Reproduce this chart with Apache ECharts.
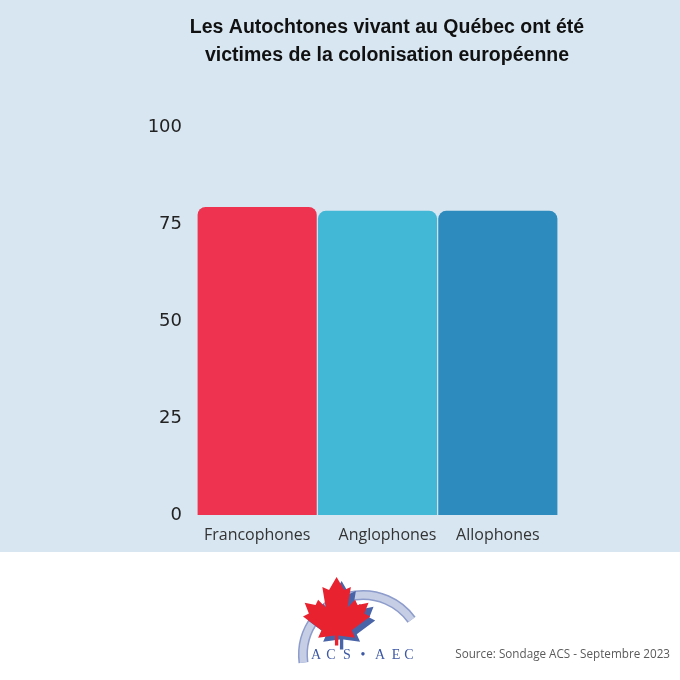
<!DOCTYPE html>
<html><head><meta charset="utf-8">
<script src="https://cdn.jsdelivr.net/npm/echarts@6/dist/echarts.min.js"></script>
<style>html,body{margin:0;padding:0;background:#fff}#c{width:680px;height:680px}</style>
</head><body><div id="c"></div>
<script>
const categories = ['Francophones', 'Anglophones', 'Allophones'];
const values = [79.4, 78.4, 78.4];
const barColors = ['#ee3350', '#42b7d6', '#2e8bbd'];
const yTicks = [0, 25, 50, 75, 100];
const titleLines = ['Les Autochtones vivant au Québec ont été', 'victimes de la colonisation européenne'];
const sourceText = 'Source: Sondage ACS - Septembre 2023';
const logoLetters = ['A', 'C', 'S', '•', 'A', 'E', 'C'];

const leafPts = [[50,0],[41,17],[33,13],[37,40],[28,30],[25,37],[12,34],[17,48],[10,52],[32,70],[28,80],[48,77],[48,90],[52,90],[52,77],[72,80],[68,70],[90,52],[83,48],[88,34],[75,37],[72,30],[63,40],[67,13],[59,17]];
function leaf(ox, oy, sx, sy){ return leafPts.map(p => [ox + p[0]*sx, oy + p[1]*sy]); }
const letterX = [316, 331, 347, 363, 380, 396, 409];
const labelShift = [0, 20, 0];

const chart = echarts.init(document.getElementById('c'));
const graphics = [
  { type: 'rect', z: -10, shape: { x: 0, y: 0, width: 680, height: 552 }, style: { fill: '#d8e6f1' } },
  { type: 'text', x: 387, y: 28, style: { text: titleLines[0], fontFamily: 'Liberation Sans', fontWeight: 'bold', fontSize: 19.5, fill: '#111', align: 'center', verticalAlign: 'middle' } },
  { type: 'text', x: 387, y: 56, style: { text: titleLines[1], fontFamily: 'Liberation Sans', fontWeight: 'bold', fontSize: 19.5, fill: '#111', align: 'center', verticalAlign: 'middle' } },
  { type: 'text', x: 670, y: 655, style: { text: sourceText, fontFamily: 'Open Sans', fontSize: 11.7, fill: '#5a5a5a', align: 'right', verticalAlign: 'middle' } },
  { type: 'arc', shape: { cx: 363, cy: 655, r: 60, startAngle: Math.PI * 0.96, endAngle: Math.PI * 1.80 }, style: { stroke: '#8d9ccb', lineWidth: 10, fill: null } },
  { type: 'arc', shape: { cx: 363, cy: 655, r: 60, startAngle: Math.PI * 0.96, endAngle: Math.PI * 1.80 }, style: { stroke: '#c6cee6', lineWidth: 7, fill: null } },
  { type: 'polygon', shape: { points: leaf(299.6, 581, 0.84, 0.76) }, style: { fill: '#4a64a8' } },
  { type: 'polygon', shape: { points: leaf(294.6, 577, 0.84, 0.76) }, style: { fill: '#e8232f' } }
];
logoLetters.forEach((ch, i) => graphics.push({ type: 'text', x: letterX[i], y: 655, style: { text: ch, fontFamily: 'Liberation Serif', fontSize: 14, fill: '#3d58a5', align: 'center', verticalAlign: 'middle' } }));

chart.setOption({
  backgroundColor: '#ffffff',
  animation: false,
  grid: { left: 197, right: 122, top: 127, bottom: 165 },
  xAxis: {
    type: 'category',
    data: categories.map((c, i) => ({ value: c, textStyle: { padding: [0, 0, 0, labelShift[i]] } })),
    axisLine: { show: false }, axisTick: { show: false },
    axisLabel: { interval: 0, fontSize: 16, color: '#333', fontFamily: 'Open Sans', margin: 12 }
  },
  yAxis: {
    type: 'value', min: 0, max: 100, interval: 25,
    splitLine: { show: false }, axisLine: { show: false }, axisTick: { show: false },
    axisLabel: { fontSize: 18, color: '#222', fontFamily: 'DejaVu Sans', margin: 15,
      formatter: v => yTicks.includes(v) ? String(v) : '' }
  },
  series: [{
    type: 'bar', barCategoryGap: '1%',
    data: values.map((v, i) => ({ value: v, itemStyle: { color: barColors[i] } })),
    itemStyle: { borderRadius: [8, 8, 0, 0] }
  }],
  graphic: graphics
});
</script></body></html>
